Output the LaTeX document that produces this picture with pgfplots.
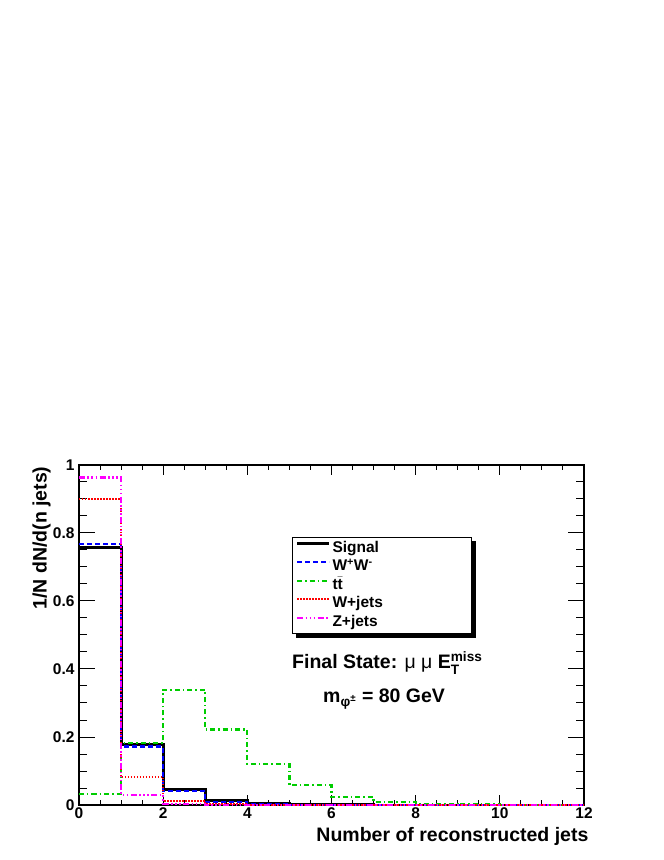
\documentclass[border=0pt]{standalone}
\usepackage{fontspec}
\setmainfont{Liberation Sans}
\usepackage{amsmath}
\usepackage{pgfplots}
\pgfplotsset{compat=1.18}
\usetikzlibrary{backgrounds}
\definecolor{rgreen}{RGB}{0,205,0}
\definecolor{rmagenta}{RGB}{255,0,255}
\definecolor{rred}{RGB}{255,0,0}
\definecolor{rblue}{RGB}{0,0,255}
\newcommand\tlfont{\fontsize{15.5}{15.5}\selectfont\bfseries}

\begin{document}
\begin{tikzpicture}
\path[use as bounding box] (0,0) rectangle (664pt,860pt);
\begin{axis}[
  at={(79pt,55pt)}, anchor=south west,
  scale only axis, width=505pt, height=340pt,
  xmin=0, xmax=12, ymin=0, ymax=1,
  axis line style={line width=1.5pt},
  xtick={0,2,4,6,8,10,12}, minor x tick num=3,
  ytick={0,0.2,0.4,0.6,0.8,1}, minor y tick num=3,
  xticklabels={0,2,4,6,8,10,12},
  yticklabels={0,0.2,0.4,0.6,0.8,1},
  tick align=inside, xtick pos=both, ytick pos=both,
  tick style={line width=1pt, black},
  xtick style={/pgfplots/major tick length=10pt, /pgfplots/minor tick length=5pt},
  ytick style={/pgfplots/major tick length=16pt, /pgfplots/minor tick length=8pt},
  /pgf/number format/assume math mode=true,
  tick label style={font=\tlfont},
  xticklabel style={font=\tlfont, yshift=1pt},
  yticklabel style={font=\tlfont, xshift=-1pt},
  xlabel={Number of reconstructed jets},
  ylabel={1/N dN/d(n jets)},
  label style={font=\fontsize{19.5}{20}\selectfont\bfseries},
  x label style={at={(axis description cs:1.0158,-0.108)}, anchor=base east},
  y label style={at={(axis description cs:-0.064,1.0059)}, rotate=0, anchor=base east},
  legend cell align=left,
  legend image code/.code={\draw[#1] (0pt,4.5pt) -- (32pt,4.5pt);},
  legend style={
    name=leg,
    at={(rel axis cs:0.4218,0.788)}, anchor=north west,
    draw=black, line width=1pt, fill=white,
    inner xsep=3pt, inner ysep=1.5pt,
    font=\fontsize{15.5}{15.5}\selectfont\bfseries,
    nodes={text height=11pt, text depth=3.5pt, inner sep=2pt},
    /tikz/every even column/.append style={text width=134pt, inner xsep=4pt},
  },
]
\addplot[const plot, black, line width=3pt] coordinates {
 (0,0.757) (1,0.178) (2,0.045) (3,0.012) (4,0.003) (5,0.001) (6,0.0005) (7,0) (8,0) (9,0) (10,0) (11,0) (12,0)};
\addlegendentry{Signal}
\addplot[const plot, rblue, line width=2.2pt, dash pattern=on 5pt off 3pt] coordinates {
 (0,0.768) (1,0.172) (2,0.041) (3,0.010) (4,0.003) (5,0.001) (6,0.0003) (7,0) (8,0) (9,0) (10,0) (11,0) (12,0)};
\addlegendentry{W\textsuperscript{+}W\textsuperscript{-}}
\addplot[const plot, rgreen, line width=2.2pt, dash pattern=on 5pt off 3pt on 1.5pt off 3pt] coordinates {
 (0,0.033) (1,0.183) (2,0.339) (3,0.222) (4,0.121) (5,0.058) (6,0.024) (7,0.010) (8,0.004) (9,0.002) (10,0.001) (11,0.0005) (12,0.0005)};
\addlegendentry{t$\bar{\mbox{\bfseries t}}$}
\addplot[const plot, rred, line width=2.2pt, dash pattern=on 1.5pt off 1.5pt] coordinates {
 (0,0.900) (1,0.082) (2,0.012) (3,0.003) (4,0.001) (5,0.0003) (6,0) (7,0) (8,0) (9,0) (10,0) (11,0) (12,0)};
\addlegendentry{W+jets}
\addplot[const plot, rmagenta, line width=2.2pt, dash pattern=on 6pt off 2.5pt on 1.5pt off 2.5pt on 1.5pt off 2.5pt on 1.5pt off 2.5pt] coordinates {
 (0,0.963) (1,0.030) (2,0.003) (3,0.001) (4,0.0003) (5,0) (6,0) (7,0) (8,0) (9,0) (10,0) (11,0) (12,0)};
\addlegendentry{Z+jets}
\end{axis}
\begin{scope}[on background layer]
\fill[black] ([xshift=4pt,yshift=-4pt]leg.south west) rectangle ([xshift=4pt,yshift=-4pt]leg.north east);
\end{scope}
\node[anchor=base west, inner sep=0pt, font=\fontsize{19.5}{20}\selectfont\bfseries] at (292pt,191pt)
  {Final State: {\mdseries μ μ} E$_{\text{T}}^{\text{miss}}$};
\node[anchor=base west, inner sep=0pt, font=\fontsize{19.5}{20}\selectfont\bfseries] at (323pt,157pt)
  {m$_{\text{φ}^{\text{±}}}$ = 80 GeV};
\end{tikzpicture}
\end{document}
